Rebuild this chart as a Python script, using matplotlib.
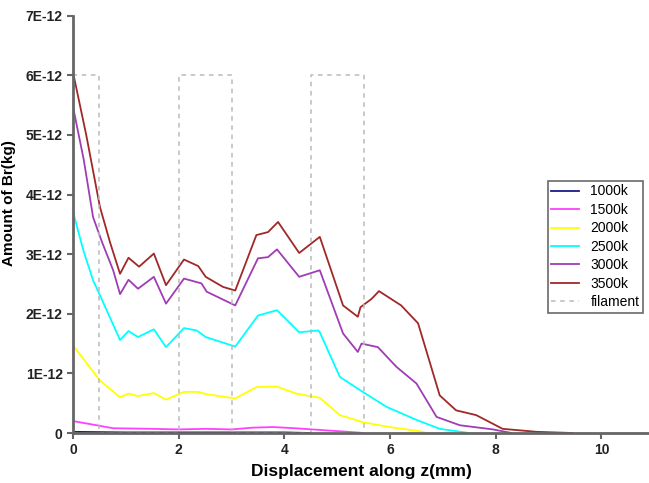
import matplotlib
matplotlib.use("Agg")
import matplotlib.pyplot as plt

plt.rcParams['font.family'] = ['Liberation Sans', 'DejaVu Sans']

# Dados (x em mm, y em 1E-12 kg)
x_3500 = [0, 0.25, 0.51, 0.7, 0.89, 1.05, 1.25, 1.53, 1.76, 2.10, 2.37, 2.51, 2.84, 3.07,
          3.47, 3.69, 3.88, 4.28, 4.67, 5.11, 5.39, 5.44, 5.65, 5.79, 6.21, 6.53, 6.94,
          7.25, 7.63, 8.13, 8.77, 9.45]
y_3500 = [6.05, 5.0, 3.79, 3.2, 2.67, 2.94, 2.79, 3.01, 2.48, 2.91, 2.80, 2.62, 2.45, 2.39,
          3.32, 3.37, 3.54, 3.02, 3.29, 2.14, 1.95, 2.11, 2.25, 2.38, 2.14, 1.84, 0.63,
          0.38, 0.30, 0.07, 0.02, 0.0]

x_3000 = [0, 0.2, 0.38, 0.55, 0.76, 0.89, 1.05, 1.23, 1.53, 1.76, 2.10, 2.43, 2.53, 3.07,
          3.50, 3.69, 3.86, 4.28, 4.67, 5.11, 5.39, 5.46, 5.77, 6.12, 6.50, 6.88, 7.32,
          7.95, 8.3]
y_3000 = [5.47, 4.6, 3.62, 3.2, 2.73, 2.33, 2.57, 2.42, 2.62, 2.17, 2.59, 2.51, 2.37, 2.14,
          2.93, 2.95, 3.08, 2.62, 2.73, 1.67, 1.36, 1.50, 1.44, 1.11, 0.83, 0.27, 0.13,
          0.06, 0.0]

x_2500 = [0, 0.2, 0.38, 0.51, 0.89, 1.05, 1.23, 1.53, 1.76, 2.10, 2.34, 2.51, 3.07, 3.50,
          3.86, 4.28, 4.64, 4.67, 5.05, 5.43, 5.93, 6.5, 6.94, 7.5]
y_2500 = [3.71, 3.05, 2.56, 2.31, 1.56, 1.71, 1.61, 1.74, 1.44, 1.76, 1.72, 1.61, 1.45, 1.97,
          2.06, 1.69, 1.72, 1.69, 0.94, 0.72, 0.44, 0.22, 0.07, 0.0]

x_2000 = [0, 0.51, 0.89, 1.05, 1.23, 1.53, 1.76, 2.10, 2.37, 2.53, 3.07, 3.47, 3.85, 4.23,
          4.67, 5.05, 5.49, 5.99, 6.56, 6.7]
y_2000 = [1.47, 0.88, 0.60, 0.66, 0.62, 0.67, 0.56, 0.69, 0.69, 0.65, 0.58, 0.77, 0.78, 0.66,
          0.59, 0.30, 0.18, 0.10, 0.03, 0.0]

x_1500 = [0, 0.51, 0.76, 1.5, 2.0, 2.5, 3.0, 3.4, 3.79, 4.2, 4.7, 5.2, 5.5]
y_1500 = [0.20, 0.12, 0.08, 0.07, 0.06, 0.07, 0.06, 0.09, 0.10, 0.08, 0.05, 0.02, 0.0]

x_1000 = [0, 1.0, 2.0, 3.0, 4.0, 4.5]
y_1000 = [0.02, 0.01, 0.01, 0.01, 0.01, 0.0]

# Contorno dos filamentos
fil_x = [0, 0, 0.5, 0.5, 2, 2, 3, 3, 4.5, 4.5, 5.5, 5.5]
fil_y = [0, 6, 6, 0, 0, 6, 6, 0, 0, 6, 6, 0]

series = [
    ("1000k", x_1000, y_1000, "#1a1a8c"),
    ("1500k", x_1500, y_1500, "#ff40ff"),
    ("2000k", x_2000, y_2000, "#ffff00"),
    ("2500k", x_2500, y_2500, "#00ffff"),
    ("3000k", x_3000, y_3000, "#a03cb4"),
    ("3500k", x_3500, y_3500, "#a02828"),
]

fig = plt.figure(figsize=(6.49, 4.83), dpi=100)
ax = fig.add_axes([0.1125, 0.1035, 0.8875, 0.864])

for name, xs, ys, c in series:
    ax.plot(xs, [v * 1e-12 for v in ys], color=c, lw=1.3, label=name)
ax.plot(fil_x, [v * 1e-12 for v in fil_y], color="#bbbbbb", lw=1.1,
        ls=(0, (3, 3)), label="filament")

ax.set_xlim(0, 10.9)
ax.set_ylim(0, 7e-12)
ax.set_xticks([0, 2, 4, 6, 8, 10])
ax.set_yticks([i * 1e-12 for i in range(8)])
ax.set_yticklabels(["0", "1E-12", "2E-12", "3E-12", "4E-12", "5E-12", "6E-12", "7E-12"])

for s in ["top", "right"]:
    ax.spines[s].set_visible(False)
for s in ["left", "bottom"]:
    ax.spines[s].set_color("#666666")
    ax.spines[s].set_linewidth(2)
ax.tick_params(colors="#666666", width=1.5, length=4, labelcolor="#222222",
               labelsize=10)
for lab in ax.get_xticklabels() + ax.get_yticklabels():
    lab.set_fontweight("bold")

ax.set_xlabel("Displacement along z(mm)", fontsize=12.5, fontweight="bold", labelpad=5)
ax.set_ylabel("Amount of Br(kg)", fontsize=11, fontweight="bold")
ax.yaxis.set_label_coords(-0.099, 0.55)

leg = ax.legend(loc="upper left", bbox_to_anchor=(548 / 649, 1 - 181 / 483),
                bbox_transform=fig.transFigure, fontsize=10, frameon=True,
                fancybox=False, handlelength=2.0, labelspacing=0.32,
                borderpad=0.25, handletextpad=0.8, borderaxespad=0)
leg.get_frame().set_edgecolor("#444444")
leg.get_frame().set_linewidth(1.2)

fig.savefig("out.png", dpi=100)
